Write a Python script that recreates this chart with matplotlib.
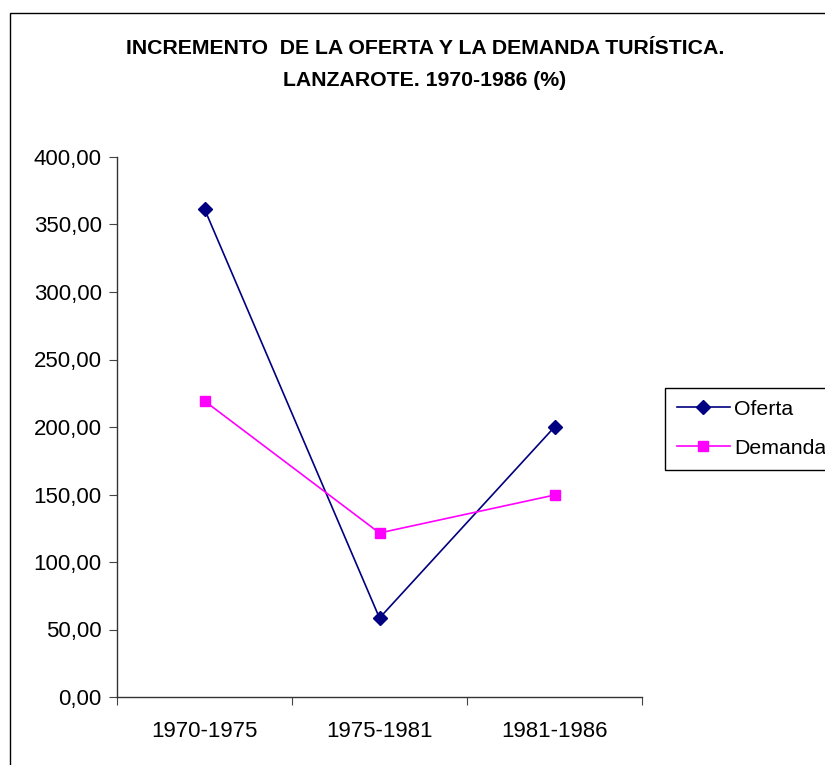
import matplotlib
matplotlib.use("Agg")
import matplotlib.pyplot as plt
from matplotlib.patches import Rectangle

categories = ["1970-1975", "1975-1981", "1981-1986"]
oferta = [361.5, 58.5, 200.0]
demanda = [219.3, 121.5, 149.6]
yticks = [0, 50, 100, 150, 200, 250, 300, 350, 400]

plt.rcParams['font.family'] = ['Liberation Sans', 'DejaVu Sans']

fig = plt.figure(figsize=(8.25, 7.65), dpi=100)
W, H = 825, 765
# outer border of chart area
fig.add_artist(Rectangle((10 / W, -0.1), 1.2, (765 - 13) / H + 0.1, transform=fig.transFigure,
                         fill=False, edgecolor='black', linewidth=1.0))

ax = fig.add_axes([117 / W, 1 - 697 / H, (642 - 117) / W, (697 - 157) / H])
x = list(range(len(categories)))
ax.plot(x, oferta, color='#000080', marker='D', markersize=7, linewidth=1.2, label='Oferta')
ax.plot(x, demanda, color='#FF00FF', marker='s', markersize=7.5, linewidth=1.2, label='Demanda')

ax.set_xlim(-0.5, 2.5)
ax.set_ylim(0, 400)
ax.set_yticks(yticks)
ax.set_yticklabels([f"{v:.2f}".replace('.', ',') for v in yticks], fontsize=16)
ax.set_xticks([-0.5, 0.5, 1.5, 2.5])
ax.set_xticklabels([])
ax.set_xticks(x, minor=True)
ax.set_xticklabels(categories, minor=True, fontsize=16)
ax.tick_params(axis='x', which='minor', length=0, pad=17)
ax.tick_params(axis='x', which='major', length=6, direction='out', color='#444444')
ax.tick_params(axis='y', length=6, direction='out', color='#444444', pad=5)
for s in ['top', 'right']:
    ax.spines[s].set_visible(False)
for s in ['left', 'bottom']:
    ax.spines[s].set_color('#333333')
    ax.spines[s].set_linewidth(1.0)

fig.text(425 / W, 1 - 49 / H, "INCREMENTO  DE LA OFERTA Y LA DEMANDA TURÍSTICA.",
         ha='center', va='center', fontsize=15.3, fontweight='bold')
fig.text(425 / W, 1 - 81 / H, "LANZAROTE. 1970-1986 (%)",
         ha='center', va='center', fontsize=15.3, fontweight='bold')

leg = fig.legend(loc='upper left', bbox_to_anchor=(665 / W, 1 - 388 / H), fontsize=15.3,
                 frameon=True, fancybox=False, edgecolor='black', framealpha=1,
                 handlelength=2.5, handletextpad=0.2, borderpad=0.55, labelspacing=0.95,
                 borderaxespad=0)
leg.get_frame().set_linewidth(1.0)

fig.savefig("out.png", dpi=100)
